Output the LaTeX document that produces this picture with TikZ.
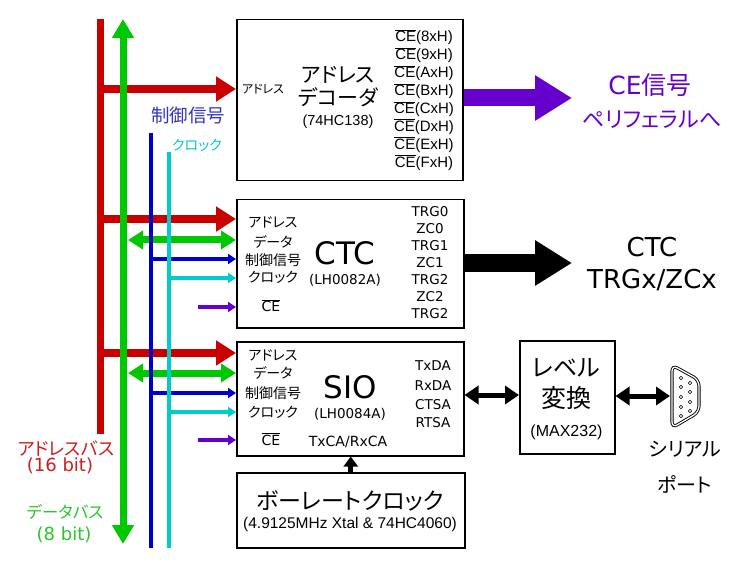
\documentclass[tikz,border=0pt]{standalone}
\usepackage{fontspec}
\setmainfont{DejaVu Sans}
\newfontfamily\jp[RawFeature=+palt]{Noto Sans CJK JP}
\newfontfamily\arl{Liberation Sans}
\newfontfamily\dvs{DejaVu Sans}
\usetikzlibrary{arrows.meta}
\newcommand{\ovce}{$\overline{\hbox{CE}}$}
\definecolor{cred}{RGB}{200,0,0}
\definecolor{cgreen}{RGB}{0,200,0}
\definecolor{cblue}{RGB}{0,0,204}
\definecolor{ccyan}{RGB}{0,204,204}
\definecolor{cpurple}{RGB}{102,0,204}
\definecolor{tred}{RGB}{204,30,30}
\definecolor{tgreen}{RGB}{40,200,40}
\definecolor{tblue}{RGB}{50,50,200}
\definecolor{tcyan}{RGB}{0,200,200}
\tikzset{
  box/.style={draw, line width=1.5pt, fill=white, inner sep=0pt, anchor=north west},
  t/.style={inner sep=0pt, anchor=base},
  jpf/.style={font=\jp\fontsize{#1}{#1}\selectfont},
  dvf/.style={font=\fontsize{#1}{#1}\selectfont},
  arf/.style={font=\arl\fontsize{#1}{#1}\selectfont},
  redarr/.style={draw=cred, line width=8pt, -{Triangle[length=20pt,width=24pt]}},
  greenarr/.style={draw=cgreen, line width=7pt, {Triangle[length=15pt,width=18pt]}-{Triangle[length=15pt,width=18pt]}},
  smallarr/.style={line width=3.5pt, -{Triangle[length=8pt,width=10pt]}},
  bigarr/.style={line width=17pt, -{Triangle[length=37pt,width=43pt]}},
  blkdbl/.style={draw=black, line width=5pt, {Triangle[length=14pt,width=18pt]}-{Triangle[length=14pt,width=18pt]}},
}
\begin{document}
\begin{tikzpicture}[x=1pt,y=-1pt]
\useasboundingbox (0,0) rectangle (756,567);
% boxes
\node[box, minimum width=226pt, minimum height=161pt] (dec) at (236,19) {};
\node[box, minimum width=227pt, minimum height=128pt] (ctc) at (236,199) {};
\node[box, minimum width=227pt, minimum height=114pt] (sio) at (236,341) {};
\node[box, minimum width=228pt, minimum height=75pt] (baud) at (236,472) {};
\node[box, minimum width=95pt, minimum height=113pt] (lvl) at (519,340) {};
% bus coordinates
\coordinate (rtop) at (100,19); \coordinate (rbot) at (100,434);
\coordinate (gtop) at (123,19); \coordinate (gbot) at (123,544);
\coordinate (btop) at (151,133); \coordinate (bbot) at (151,548);
\coordinate (ctop) at (169,152); \coordinate (cbot) at (169,548);
% horizontal branches
\coordinate (r1) at (100,89); \coordinate (r2) at (100,219); \coordinate (r3) at (100,353);
\draw[redarr] (r1) -- (r1 -| dec.west);
\draw[redarr] (r2) -- (r2 -| ctc.west);
\draw[redarr] (r3) -- (r3 -| sio.west);
\coordinate (g2) at (128,240); \coordinate (g3) at (128,373);
\draw[greenarr] (g2) -- (g2 -| ctc.west);
\draw[greenarr] (g3) -- (g3 -| sio.west);
\coordinate (b2) at (151,259); \coordinate (b3) at (151,393);
\draw[smallarr, draw=cblue] (b2) -- (b2 -| ctc.west);
\draw[smallarr, draw=cblue] (b3) -- (b3 -| sio.west);
\coordinate (c2) at (169,278); \coordinate (c3) at (169,412);
\draw[smallarr, draw=ccyan] (c2) -- (c2 -| ctc.west);
\draw[smallarr, draw=ccyan] (c3) -- (c3 -| sio.west);
\coordinate (p2) at (198,307); \coordinate (p3) at (198,440);
\draw[smallarr, line width=4pt, draw=cpurple] (p2) -- (p2 -| ctc.west);
\draw[smallarr, line width=4pt, draw=cpurple] (p3) -- (p3 -| sio.west);
% vertical buses
\draw[draw=cred, line width=7pt] (rtop) -- (rbot);
\draw[draw=cgreen, line width=7pt, {Triangle[length=19pt,width=21pt]}-{Triangle[length=19pt,width=21pt]}] (gtop) -- (gbot);
\draw[draw=cblue, line width=4pt] (btop) -- (bbot);
\draw[draw=ccyan, line width=4pt] (ctop) -- (cbot);
% bus labels
\node[t, jpf=18.5, text=tblue] at (188,122.6) {制御信号};
\node[t, jpf=14, text=tcyan] at (197,150.2) {クロック};
\node[t, jpf=18, text=tred] at (66,455.6) {アドレスバス};
\node[t, dvf=18, text=tred] at (60,471.5) {(16 bit)};
\node[t, jpf=16.5, text=tgreen] at (65,518) {データバス};
\node[t, dvf=18, text=tgreen] at (64,540.5) {(8 bit)};
% decoder texts
\node[t, jpf=12] at (263,93.4) {アドレス};
\node[t, jpf=21] at (338,82.8) {アドレス};
\node[t, jpf=21] at (338,105.8) {デコーダ};
\node[t, arf=14.5] at (338,125.2) {(74HC138)};
\foreach \c [count=\i from 0] in {8,9,A,B,C,D,E,F}
  \node[t, arf=15] at (424,42+\i*17.9) {\ovce(\c xH)};
% CTC texts
\node[t, jpf=14] at (273,227.2) {アドレス};
\node[t, jpf=14] at (273,247.2) {データ};
\node[t, jpf=14] at (273,265.2) {制御信号};
\node[t, jpf=14] at (273,282.2) {クロック};
\node[t, dvf=14] at (271,312) {\ovce};
\node[t, dvf=31] at (345,264.3) {CTC};
\node[t, dvf=13.5] at (345,284) {(LH0082A)};
\foreach \s [count=\i from 0] in {TRG0,ZC0,TRG1,ZC1,TRG2,ZC2,TRG2}
  \node[t, dvf=13.5] at (430,217+\i*16.9) {\s};
% SIO texts
\node[t, jpf=14] at (273,360.2) {アドレス};
\node[t, jpf=14] at (273,378.2) {データ};
\node[t, jpf=14] at (273,398.2) {制御信号};
\node[t, jpf=14] at (273,417.2) {クロック};
\node[t, dvf=14] at (271,445) {\ovce};
\node[t, dvf=31] at (350,398.3) {SIO};
\node[t, dvf=13.5] at (350,418) {(LH0084A)};
\node[t, dvf=14] at (348,446) {TxCA/RxCA};
\node[t, dvf=13.5] at (433,370) {TxDA};
\node[t, dvf=13.5] at (433,390) {RxDA};
\node[t, dvf=13.5] at (433,409) {CTSA};
\node[t, dvf=13.5] at (433,427) {RTSA};
% right outputs
\coordinate (ceend) at (572,98);
\draw[bigarr, draw=cpurple] (ceend -| dec.east) -- (ceend);
\node[t, jpf=25, text=cpurple] at (650,94.8) {{\dvs CE}信号};
\node[t, jpf=22, text=cpurple] at (652,127.2) {ペリフェラルへ};
\coordinate (ctcend) at (572,263);
\draw[bigarr, line width=18pt, draw=black] (ctcend -| ctc.east) -- (ctcend);
\node[t, dvf=26] at (652,256.5) {CTC};
\node[t, dvf=26] at (652,288.5) {TRGx/ZCx};
% level converter
\coordinate (sl) at (463,395);
\draw[blkdbl] (sl -| sio.east) -- (sl -| lvl.west);
\node[t, jpf=24] at (566.5,376.5) {レベル};
\node[t, jpf=25] at (566.5,407.3) {変換};
\node[t, arf=16] at (566.5,436.2) {(MAX232)};
% serial port
\coordinate (port) at (670,396);
\draw[blkdbl] (port -| lvl.east) -- (port);
\draw[line width=0.9pt, double=white, double distance=1.3pt, rounded corners=6pt]
  (672,365) -- (699,380) -- (699,412) -- (672,428) -- cycle;
\foreach \yy in {378,387,397,407,416} \draw[line width=0.6pt] (681,\yy) circle (1.8pt);
\foreach \yy in {383,392,402,411} \draw[line width=0.6pt] (690,\yy) circle (1.8pt);
\node[t, jpf=20] at (685,456.4) {シリアル};
\node[t, jpf=20] at (685,492) {ポート};
% baud rate clock
\draw[draw=black, line width=5pt, -{Triangle[length=10pt,width=14pt]}] (baud.north) -- (baud.north |- sio.south);
\node[t, jpf=23] at (350,509) {ボーレートクロック};
\node[t, arf=15.5] at (350,528.3) {(4.9125MHz Xtal \& 74HC4060)};
\end{tikzpicture}
\end{document}
